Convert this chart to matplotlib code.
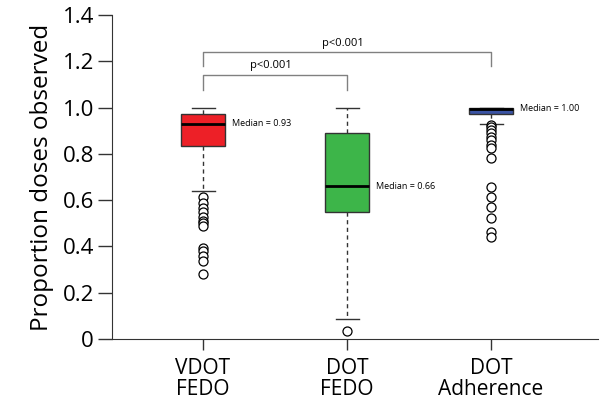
import matplotlib
matplotlib.use("Agg")
import matplotlib.pyplot as plt

plt.rcParams['font.family'] = ['Open Sans', 'DejaVu Sans']

# box statistics
groups = ["VDOT\nFEDO", "DOT\nFEDO", "DOT\nAdherence"]
whisker_low = [0.64, 0.085, 0.93]
q1 = [0.835, 0.55, 0.972]
medians = [0.93, 0.66, 0.995]
q3 = [0.97, 0.89, 1.00]
whisker_high = [1.00, 1.00, 1.00]
box_colors = ["#ED2027", "#3DB549", "#3A53A4"]
median_labels = ["Median = 0.93", "Median = 0.66", "Median = 1.00"]

outliers_vdot = [0.612, 0.587, 0.566, 0.547, 0.525, 0.51, 0.50, 0.488,
                 0.392, 0.38, 0.36, 0.338, 0.281]
outliers_dot = [0.035]
outliers_adh = [0.925, 0.915, 0.903, 0.889, 0.874, 0.86, 0.838, 0.824,
                0.781, 0.658, 0.615, 0.572, 0.522, 0.464, 0.442]
outliers = [outliers_vdot, outliers_dot, outliers_adh]

# significance brackets: (left group, right group, height, leg end, label)
brackets = [(0, 1, 1.141, 1.076, "p<0.001"), (0, 2, 1.24, 1.18, "p<0.001")]

fig = plt.figure(figsize=(6, 4.04), dpi=100)
ax = fig.add_axes([0.1867, 0.161, 0.81, 0.802])

stats = []
for i in range(len(groups)):
    stats.append({"whislo": whisker_low[i], "q1": q1[i], "med": medians[i],
                  "q3": q3[i], "whishi": whisker_high[i], "fliers": outliers[i]})

positions = [1, 2, 3]
bp = ax.bxp(stats, positions=positions, widths=0.3, patch_artist=True,
            capwidths=0.16,
            boxprops=dict(edgecolor="#333333", linewidth=1.0),
            medianprops=dict(color="black", linewidth=2.0),
            whiskerprops=dict(color="#333333", linestyle=(0, (3, 2.5)), linewidth=1.0),
            capprops=dict(color="#333333", linewidth=1.0),
            flierprops=dict(marker="o", markerfacecolor="white",
                            markeredgecolor="black", markersize=6.5,
                            markeredgewidth=0.9))
for patch, c in zip(bp["boxes"], box_colors):
    patch.set_facecolor(c)

for i, txt in enumerate(median_labels):
    ax.text(positions[i] + 0.2, medians[i], txt, fontsize=6.5,
            va="center", ha="left")

for a, b, top, leg, label in brackets:
    xa, xb = positions[a], positions[b]
    ax.plot([xa, xa, xb, xb], [leg, top, top, leg], color="#808080", lw=1.0)
    ax.text((xa + xb) / 2 - 0.03, top + 0.015, label, fontsize=8,
            ha="center", va="bottom")

ax.set_xlim(0.368, 3.743)
ax.set_ylim(0, 1.4)
ax.set_yticks([0, 0.2, 0.4, 0.6, 0.8, 1.0, 1.2, 1.4])
ax.set_yticklabels(["0", "0.2", "0.4", "0.6", "0.8", "1.0", "1.2", "1.4"])
ax.set_xticks(positions)
ax.set_xticklabels(groups, fontsize=15, linespacing=1.0)
ax.tick_params(axis="y", labelsize=16, length=10, width=1, color="#333333", pad=3)
ax.tick_params(axis="x", length=8, width=1, color="#333333", pad=6)
ax.set_ylabel("Proportion doses observed", fontsize=17.5, labelpad=6)

for s in ["top", "right"]:
    ax.spines[s].set_visible(False)
for s in ["left", "bottom"]:
    ax.spines[s].set_color("#333333")

fig.savefig("out.png", dpi=100)
